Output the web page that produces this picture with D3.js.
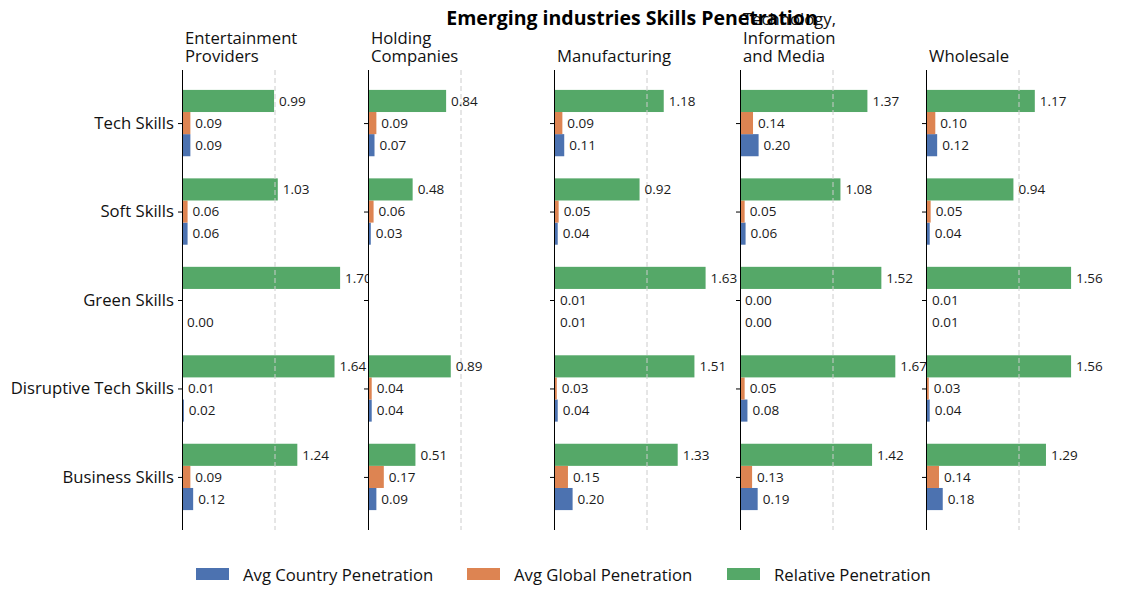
<!DOCTYPE html>
<html>
<head>
<meta charset="utf-8">
<script src="https://cdn.jsdelivr.net/npm/d3@7"></script>
<style>
  body { margin: 0; background: #fff; }
  svg { font-family: "Open Sans", "Noto Sans", sans-serif; }
</style>
</head>
<body>
<div id="chart"></div>
<script>
// chart data
var skills = ["Tech Skills", "Soft Skills", "Green Skills", "Disruptive Tech Skills", "Business Skills"];
var industries = ["Entertainment Providers", "Holding Companies", "Manufacturing", "Technology, Information and Media", "Wholesale"];
var industryTitles = [["Entertainment", "Providers"], ["Holding", "Companies"], ["Manufacturing"], ["Technology,", "Information", "and Media"], ["Wholesale"]];
var seriesNames = ["Avg Country Penetration", "Avg Global Penetration", "Relative Penetration"];

// one array per industry, values per skill (null = missing)
var avgCountry = [
  [0.09, 0.06, 0.00, 0.02, 0.12],
  [0.07, 0.03, null, 0.04, 0.09],
  [0.11, 0.04, 0.01, 0.04, 0.20],
  [0.20, 0.06, 0.00, 0.08, 0.19],
  [0.12, 0.04, 0.01, 0.04, 0.18]
];
var avgGlobal = [
  [0.09, 0.06, null, 0.01, 0.09],
  [0.09, 0.06, null, 0.04, 0.17],
  [0.09, 0.05, 0.01, 0.03, 0.15],
  [0.14, 0.05, 0.00, 0.05, 0.13],
  [0.10, 0.05, 0.01, 0.03, 0.14]
];
var relative = [
  [0.99, 1.03, 1.70, 1.64, 1.24],
  [0.84, 0.48, null, 0.89, 0.51],
  [1.18, 0.92, 1.63, 1.51, 1.33],
  [1.37, 1.08, 1.52, 1.67, 1.42],
  [1.17, 0.94, 1.56, 1.56, 1.29]
];
var gridTicks = [1];

//---------------------------------------------------------------------
// sizes
var svgWidth = 1122, svgHeight = 599;
var panelLeft = 182, panelStep = 186, panelWidth = 168;
var panelTop = 70, panelBottom = 530;
var colors = ["#4c72b0", "#dd8452", "#55a868"];
var offsets = [0.25, 0, -0.25]; // blue below, green on top
var barH = 0.25;
var titleLine = 18.5;

var svg = d3.select("#chart").append("svg").attr("width", svgWidth).attr("height", svgHeight);

var xScale = d3.scaleLinear().domain([0, panelWidth / 93]).range([0, panelWidth]);
var yScale = d3.scaleLinear().domain([-0.6, skills.length - 0.4]).range([panelTop, panelBottom]);

var allSeries = [avgCountry, avgGlobal, relative];

industries.forEach(function(name, p) {
  var g = svg.append("g").attr("transform", "translate(" + (panelLeft + p * panelStep) + ",0)");

  // axes background, covers labels spilling from the previous panel
  g.append("rect").attr("x", 0).attr("y", panelTop).attr("width", panelWidth).attr("height", panelBottom - panelTop).attr("fill", "#fff");

  // bars
  allSeries.forEach(function(series, s) {
    var rows = skills.map(function(k, i) { return {i: i, v: series[p][i]}; }).filter(function(d) { return d.v !== null; });
    g.selectAll(".bar" + s).data(rows).enter().append("rect")
      .attr("x", xScale(0))
      .attr("y", function(d) { return yScale(d.i + offsets[s] - barH / 2); })
      .attr("width", function(d) { return xScale(d.v) - xScale(0); })
      .attr("height", yScale(barH) - yScale(0))
      .attr("fill", colors[s]);
  });

  // dashed grid
  g.selectAll(".grid").data(gridTicks).enter().append("line")
    .attr("x1", function(d) { return xScale(d); }).attr("x2", function(d) { return xScale(d); })
    .attr("y1", panelTop).attr("y2", panelBottom)
    .attr("stroke", "#cccccc").attr("stroke-width", 1).attr("stroke-dasharray", "5,3");

  // bar value labels
  allSeries.forEach(function(series, s) {
    var rows = skills.map(function(k, i) { return {i: i, v: series[p][i]}; }).filter(function(d) { return d.v !== null; });
    g.selectAll(".lab" + s).data(rows).enter().append("text")
      .attr("x", function(d) { return xScale(d.v) + 5; })
      .attr("y", function(d) { return yScale(d.i + offsets[s]); })
      .attr("dy", "0.35em")
      .style("font-size", "13.5px").attr("fill", "#1a1a1a")
      .text(function(d) { return d.v.toFixed(2); });
  });

  // left axis
  var leftAxis = d3.axisLeft(yScale).tickValues(d3.range(skills.length)).tickSize(4).tickPadding(4)
    .tickFormat(function(d) { return p === 0 ? skills[d] : ""; });
  var ax = g.append("g").call(leftAxis);
  ax.select(".domain").attr("d", "M0.5," + panelTop + "V" + panelBottom).attr("stroke", "#000");
  ax.selectAll(".tick line").attr("stroke", "#000");
  ax.selectAll(".tick text").style("font-size", "16.7px").attr("fill", "#111").attr("font-family", "Open Sans");

  // panel title
  var t = g.append("text").attr("x", 3).attr("y", 62 - (industryTitles[p].length - 1) * titleLine).style("font-size", "16.7px").attr("fill", "#111");
  industryTitles[p].forEach(function(line, j) {
    t.append("tspan").attr("x", 3).attr("dy", j === 0 ? 0 : titleLine).text(line);
  });
});

// main title
svg.append("text").attr("x", 632).attr("y", 25).attr("text-anchor", "middle")
  .style("font-size", "19.5px").style("font-weight", "bold").text("Emerging industries Skills Penetration");

// legend
var legendX = [196, 467, 727];
var leg = svg.selectAll(".legend").data(seriesNames).enter().append("g")
  .attr("transform", function(d, i) { return "translate(" + legendX[i] + ",568)"; });
leg.append("rect").attr("width", 33).attr("height", 12).attr("fill", function(d, i) { return colors[i]; });
leg.append("text").attr("x", 47).attr("y", 7).attr("dy", "0.35em").style("font-size", "16.7px").attr("fill", "#111").text(function(d) { return d; });
</script>
</body>
</html>
